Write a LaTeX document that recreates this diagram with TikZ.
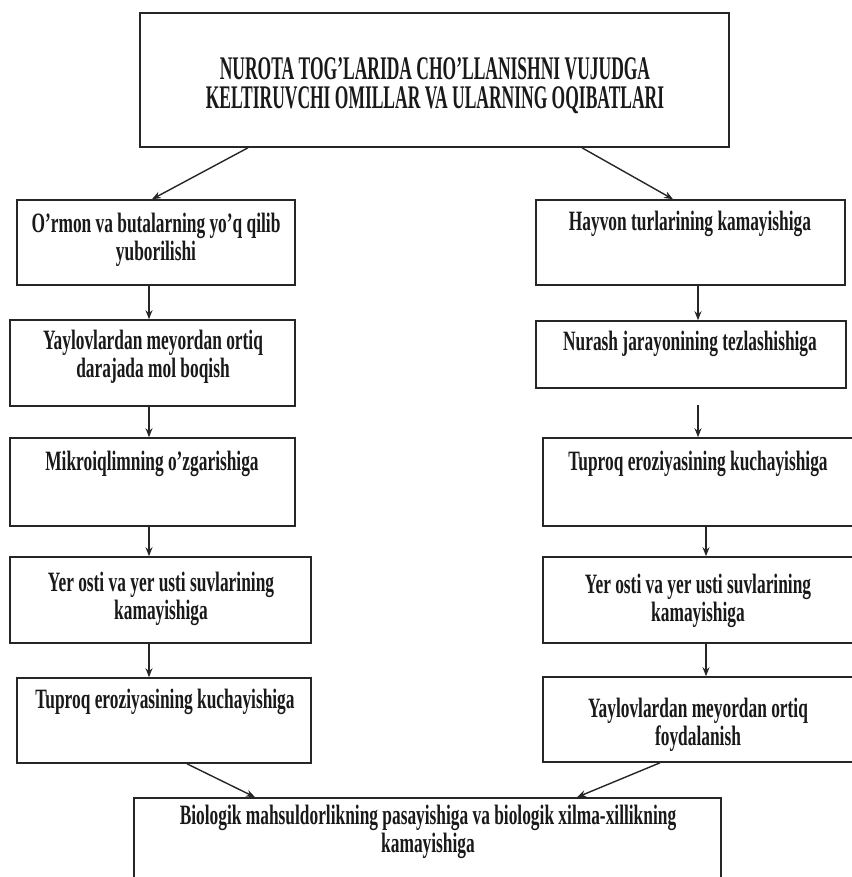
\documentclass[tikz,border=0pt]{standalone}
\usepackage{fontspec}
\setmainfont{Liberation Serif}
\newfontfamily\bodyfont{Liberation Serif}[FakeStretch=0.62]
\newfontfamily\titlefont{Liberation Serif}[FakeStretch=0.53]
\usetikzlibrary{arrows.meta,fit}
\begin{document}
\begin{tikzpicture}[x=1pt,y=-1pt,
  boxstyle/.style={draw=black!85, line width=1.6pt, inner sep=0pt},
  txt/.style={font=\bodyfont\bfseries\fontsize{28}{28}\selectfont, align=center, inner sep=0pt, text=black!90},
  ttl/.style={font=\titlefont\bfseries\fontsize{33}{29}\selectfont, align=center, inner sep=0pt, text=black!90},
  arr/.style={draw=black!85, line width=1.4pt, -{Stealth[length=9pt,width=7pt]}}]
\useasboundingbox (0,0) rectangle (851,877);
% boxes
\node[boxstyle, fit={(140,13) (729,147)}] (T) {};
\node[boxstyle, fit={(17,200) (295,285)}] (L1) {};
\node[boxstyle, fit={(536,200) (845,285)}] (R1) {};
\node[boxstyle, fit={(10,320) (295,406)}] (L2) {};
\node[boxstyle, fit={(536,321) (846,388)}] (R2) {};
\node[boxstyle, fit={(10,438) (295,526)}] (L3) {};
\node[boxstyle, fit={(543,438) (862,526)}] (R3) {};
\node[boxstyle, fit={(10,557) (311,643)}] (L4) {};
\node[boxstyle, fit={(543,557) (862,643)}] (R4) {};
\node[boxstyle, fit={(17,678) (311,763)}] (L5) {};
\node[boxstyle, fit={(543,677) (862,762)}] (R5) {};
\node[boxstyle, fit={(134,798) (721,892)}] (B) {};
% texts
\node[ttl] (Tt) at (435,86) {NUROTA TOG’LARIDA CHO’LLANISHNI VUJUDGA\\KELTIRUVCHI OMILLAR VA ULARNING OQIBATLARI};
\node[txt] (L1t) at (156,240) {O’rmon va butalarning yo’q qilib\\yuborilishi};
\node[txt] (R1t) at (690,224) {Hayvon turlarining kamayishiga};
\node[txt] (L2t) at (153,357) {Yaylovlardan meyordan ortiq\\darajada mol boqish};
\node[txt] (R2t) at (690,344) {Nurash jarayonining tezlashishiga};
\node[txt] (L3t) at (152,464) {Mikroiqlimning o’zgarishiga};
\node[txt] (R3t) at (698,464) {Tuproq eroziyasining kuchayishiga};
\node[txt] (L4t) at (161,599) {Yer osti va yer usti suvlarining\\kamayishiga};
\node[txt] (R4t) at (698,601) {Yer osti va yer usti suvlarining\\kamayishiga};
\node[txt] (L5t) at (165,702) {Tuproq eroziyasining kuchayishiga};
\node[txt] (R5t) at (698,725) {Yaylovlardan meyordan ortiq\\foydalanish};
\node[txt] (Bt) at (428,832) {Biologik mahsuldorlikning pasayishiga va biologik xilma-xillikning\\kamayishiga};
% connectors
\draw[arr] (T.south -| 248,0) -- (L1.north -| 152,0);
\draw[arr] (T.south -| 582,0) -- (R1.north -| 673,0);
\draw[arr] (L1.south -| 149,0) -- (L2.north -| 149,0);
\draw[arr] (L2.south -| 149,0) -- (L3.north -| 149,0);
\draw[arr] (L3.south -| 149,0) -- (L4.north -| 149,0);
\draw[arr] (L4.south -| 149,0) -- (L5.north -| 149,0);
\draw[arr] (R1.south -| 698,0) -- (R2.north -| 698,0);
\coordinate (r23) at (698,405);
\draw[arr] (r23) -- (R3.north -| r23);
\draw[arr] (R3.south -| 706,0) -- (R4.north -| 706,0);
\draw[arr] (R4.south -| 706,0) -- (R5.north -| 706,0);
\draw[arr] (L5.south -| 187,0) -- (B.north -| 255,0);
\draw[arr] (R5.south -| 660,0) -- (B.north -| 577,0);
\end{tikzpicture}
\end{document}
